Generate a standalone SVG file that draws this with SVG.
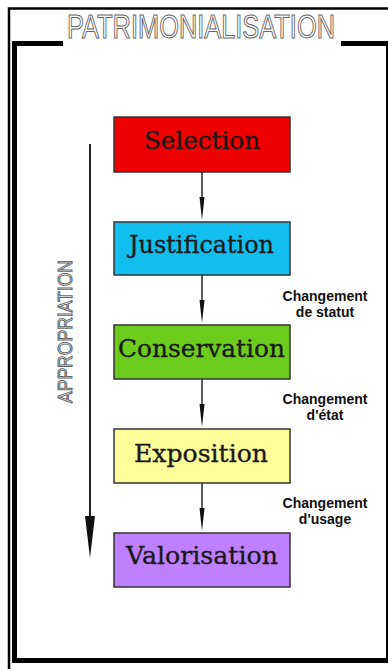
<svg xmlns="http://www.w3.org/2000/svg" width="388" height="669" viewBox="0 0 388 669">
<defs>
<style>
.box{stroke:#333;stroke-width:1.5}
.lbl{font-family:"DejaVu Serif","Liberation Serif",serif;font-size:24px;fill:#1a1a1a;stroke:#1a1a1a;stroke-width:0.35;text-anchor:middle}
.note{font-family:"Liberation Sans",Arial,sans-serif;font-weight:bold;font-size:14px;fill:#111;text-anchor:middle}
.outline{font-family:"Liberation Sans",Arial,sans-serif;fill:#fff;stroke:#666;stroke-width:1.1;text-anchor:middle}
.conn{stroke:#333;stroke-width:1.6;fill:none}
.head{fill:#111}
</style>
</defs>
<rect width="388" height="669" fill="#fff"/>
<g id="frame" fill="none" stroke="#000">
<path d="M9,669 V8.5 H388" stroke-width="2.5"/>
<path d="M63,43.5 H14.5 V660.5 H386.5 V43.5 H341" stroke-width="5"/>
</g>
<rect x="384" y="46" width="2" height="612" fill="#fff"/>
<text id="title" class="outline" x="201" y="38" font-size="33" textLength="268" lengthAdjust="spacingAndGlyphs">PATRIMONIALISATION</text>
<g id="appropriation">
<line x1="90" y1="144" x2="90" y2="520" stroke="#222" stroke-width="2"/>
<path d="M85,516 L95,516 L90,558 Z" fill="#111"/>
<text class="outline" transform="translate(72,331.5) rotate(-90)" font-size="21" textLength="143" lengthAdjust="spacingAndGlyphs">APPROPRIATION</text>
</g>
<g id="connectors">
<line class="conn" x1="202" y1="172" x2="202" y2="200"/>
<path class="head" d="M199.5,197 L204.5,197 L202,220 Z"/>
<line class="conn" x1="202" y1="275" x2="202" y2="303"/>
<path class="head" d="M199.5,300 L204.5,300 L202,323 Z"/>
<line class="conn" x1="202" y1="379" x2="202" y2="407"/>
<path class="head" d="M199.5,404 L204.5,404 L202,427 Z"/>
<line class="conn" x1="202" y1="483" x2="202" y2="511"/>
<path class="head" d="M199.5,508 L204.5,508 L202,531 Z"/>
</g>
<g id="selection">
<rect class="box" x="114" y="117" width="176" height="55" fill="#ee0000"/>
<text class="lbl" x="202" y="149" textLength="116" lengthAdjust="spacingAndGlyphs">Selection</text>
</g>
<g id="justification">
<rect class="box" x="114" y="222" width="176" height="53" fill="#12bdf0"/>
<text class="lbl" x="201.5" y="253" textLength="145" lengthAdjust="spacingAndGlyphs">Justification</text>
</g>
<g id="conservation">
<rect class="box" x="114" y="325" width="176" height="54" fill="#6ccc1e"/>
<text class="lbl" x="201.5" y="357" textLength="167" lengthAdjust="spacingAndGlyphs">Conservation</text>
</g>
<g id="exposition">
<rect class="box" x="114" y="429" width="176" height="54" fill="#ffff99"/>
<text class="lbl" x="201" y="461.5" textLength="134" lengthAdjust="spacingAndGlyphs">Exposition</text>
</g>
<g id="valorisation">
<rect class="box" x="114" y="533" width="176" height="54" fill="#bf80ff"/>
<text class="lbl" x="202" y="564" textLength="152" lengthAdjust="spacingAndGlyphs">Valorisation</text>
</g>
<g id="notes">
<text class="note" x="325" y="301">Changement</text>
<text class="note" x="325" y="317">de statut</text>
<text class="note" x="325" y="404">Changement</text>
<text class="note" x="325" y="420">d'état</text>
<text class="note" x="325" y="508">Changement</text>
<text class="note" x="325" y="524">d'usage</text>
</g>
</svg>
